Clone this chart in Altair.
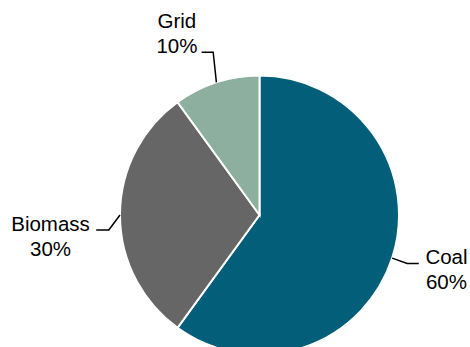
import math
import altair as alt
import pandas as pd

# ---- data ----
categories = ["Coal", "Biomass", "Grid"]
shares = [60, 30, 10]
colors = ["#025e79", "#666666", "#8daf9f"]

# ---- layout / style constants (pixels) ----
W, H = 470, 347
CX, CY = 259.5, 215.0       # pie centre
R = 139.5                   # pie radius
FONT = "Liberation Sans"
FS = 20.5
LINE_GAP = 25
# leader placement per label: (elbow dx, elbow dy_up, arm length, text dx, text dy_up) relative to edge point
placement = {
    "Grid":    (-3.2, 30.1, -11.6, -39.5, 47.8),
    "Biomass": (-11.2, -15.0, -12.6, -69.5, -22.5),
    "Coal":    (15.0, -5.3, 11.6, 54.3, -12.0),
}

pie_df = pd.DataFrame({"category": categories, "share": shares, "order": range(len(categories))})

# leader lines and label positions derived from the shares
total = sum(shares)
lines, texts = [], []
cum = 0
for cat, s in zip(categories, shares):
    mid = (cum + s / 2) / total * 2 * math.pi
    cum += s
    ex, ey = R * math.sin(mid), R * math.cos(mid)
    edx, edy, arm, tdx, tdy = placement[cat]
    pts = [(ex, ey), (ex + edx, ey + edy), (ex + edx + arm, ey + edy)]
    for i, (px, py) in enumerate(pts):
        lines.append({"category": cat, "i": i, "x": px, "y": py})
    texts.append({"txt": cat, "x": ex + tdx, "y": ey + tdy + LINE_GAP / 2})
    texts.append({"txt": f"{s}%", "x": ex + tdx, "y": ey + tdy - LINE_GAP / 2})

line_df = pd.DataFrame(lines)
text_df = pd.DataFrame(texts)

xs = alt.Scale(domain=[-CX, W - CX], range=[0, W], nice=False, zero=False)
ys = alt.Scale(domain=[CY - H, CY], range=[H, 0], nice=False, zero=False)

pie = alt.Chart(pie_df).mark_arc(outerRadius=R, stroke="white", strokeWidth=2).encode(
    theta=alt.Theta("share:Q", stack=True),
    order=alt.Order("order:Q"),
    color=alt.Color("category:N", scale=alt.Scale(domain=categories, range=colors), legend=None),
    x=alt.value(CX),
    y=alt.value(CY),
)

leaders = alt.Chart(line_df).mark_line(color="black", strokeWidth=1.5).encode(
    x=alt.X("x:Q", scale=xs, axis=None),
    y=alt.Y("y:Q", scale=ys, axis=None),
    detail="category:N",
    order="i:Q",
)

labels = alt.Chart(text_df).mark_text(
    font=FONT, fontSize=FS, color="black", align="center", baseline="middle"
).encode(
    x=alt.X("x:Q", scale=xs, axis=None),
    y=alt.Y("y:Q", scale=ys, axis=None),
    text="txt:N",
)

chart = alt.layer(pie, leaders, labels).properties(
    width=W, height=H, padding=0, autosize=alt.AutoSizeParams(type="none")
).configure_view(stroke=None).resolve_scale(color="independent")

chart.save("out.html", embed_options={"renderer": "svg", "actions": False})
